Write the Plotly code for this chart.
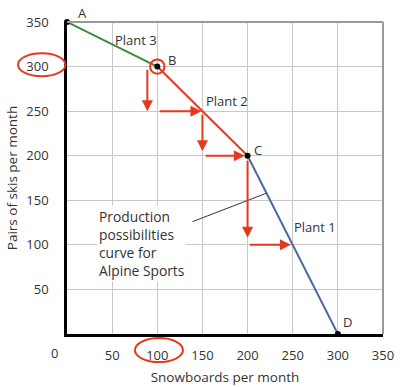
import plotly.graph_objects as go

# Data
point_labels = ["A", "B", "C", "D"]
snowboards = [0, 100, 200, 300]
skis = [350, 300, 200, 0]
segment_colors = ["#3b8a3b", "#e23b22", "#4a6aa3"]
plant_labels = ["Plant 3", "Plant 2", "Plant 1"]
plant_x = [76, 177, 275]
plant_y = [330, 261, 120]
tick_vals = [50, 100, 150, 200, 250, 300, 350]
# hand-drawn red arrows (start x, start y, end x, end y)
arrow_x0 = [89, 101, 150, 152, 200, 201]
arrow_y0 = [298, 250, 248, 200, 196, 100]
arrow_x1 = [89, 149, 150, 197, 200, 248]
arrow_y1 = [250, 250, 205, 200, 108, 100]
callout_line_x = [139, 221]
callout_line_y = [126, 158]

RED = "#e5391d"
FONT = "Open Sans"

fig = go.Figure()

for i in range(3):
    fig.add_trace(go.Scatter(
        x=snowboards[i:i + 2], y=skis[i:i + 2], mode="lines",
        line=dict(color=segment_colors[i], width=2), showlegend=False,
        hoverinfo="skip", cliponaxis=False))

# callout line
fig.add_trace(go.Scatter(x=callout_line_x, y=callout_line_y, mode="lines",
                         line=dict(color="#333333", width=1), showlegend=False))

fig.add_trace(go.Scatter(
    x=snowboards, y=skis, mode="markers",
    marker=dict(color="black", size=6), showlegend=False, cliponaxis=False))

annotations = []
label_shift = [(15, 9), (15, 7), (10, 6), (10, 12)]
for lab, x, y, (dx, dy) in zip(point_labels, snowboards, skis, label_shift):
    annotations.append(dict(x=x, y=y, text=lab, showarrow=False, xshift=dx, yshift=dy,
                            font=dict(family=FONT, size=13, color="#333333")))

for lab, x, y in zip(plant_labels, plant_x, plant_y):
    annotations.append(dict(x=x, y=y, text=lab, showarrow=False,
                            font=dict(family=FONT, size=13, color="#333333")))

for x0, y0, x1, y1 in zip(arrow_x0, arrow_y0, arrow_x1, arrow_y1):
    annotations.append(dict(x=x1, y=y1, ax=x0, ay=y0, xref="x", yref="y",
                            axref="x", ayref="y", showarrow=True, text="",
                            arrowhead=2, arrowsize=1.1, arrowwidth=2,
                            arrowcolor=RED))

annotations.append(dict(
    x=33, y=102, xref="x", yref="y", xanchor="left", yanchor="middle",
    text="Production<br>possibilities<br>curve for<br>Alpine Sports",
    align="left", showarrow=False, bgcolor="white",
    font=dict(family=FONT, size=13.8, color="#333333")))

# corner "0" label on x axis
annotations.append(dict(x=-0.038, y=-0.062, xref="paper", yref="paper",
                        xanchor="center", yanchor="middle",
                        text="0", showarrow=False,
                        font=dict(family=FONT, size=13, color="#333333")))

shapes = [
    # top & right frame in gray
    dict(type="line", xref="paper", yref="paper", x0=0, x1=1, y0=1, y1=1,
         line=dict(color="#9a9a9a", width=2)),
    dict(type="line", xref="paper", yref="paper", x0=1, x1=1, y0=0, y1=1,
         line=dict(color="#9a9a9a", width=2)),
    # red circle around B
    dict(type="circle", xref="x", yref="y", x0=92, x1=108, y0=292, y1=308,
         line=dict(color=RED, width=2)),
    # red ellipse around y tick 300
    dict(type="circle", xref="paper", yref="paper", x0=-0.155, x1=-0.005,
         y0=0.826, y1=0.9, line=dict(color=RED, width=2)),
    # red ellipse around x tick 100
    dict(type="circle", xref="paper", yref="paper", x0=0.215, x1=0.367,
         y0=-0.09, y1=-0.013, line=dict(color=RED, width=2)),
]

fig.update_layout(
    width=400, height=387, margin=dict(l=67, r=17, t=22, b=53),
    plot_bgcolor="white", paper_bgcolor="white",
    font=dict(family=FONT, size=13, color="#333333"),
    annotations=annotations, shapes=shapes,
    xaxis=dict(range=[0, 350], tickvals=tick_vals, showgrid=True,
               gridcolor="#c8c8c8", gridwidth=1, zeroline=False,
               showline=True, linecolor="black", linewidth=2.5,
               ticks="", ticklabelstandoff=8, automargin=False,
               title=dict(text="Snowboards per month", standoff=10,
                          font=dict(family=FONT, size=13.5))),
    yaxis=dict(range=[0, 350], tickvals=tick_vals, showgrid=True,
               gridcolor="#c8c8c8", gridwidth=1, zeroline=False,
               showline=True, linecolor="black", linewidth=2.5,
               ticks="", ticklabelstandoff=13, automargin=False,
               title=dict(text="Pairs of skis per month", standoff=6,
                          font=dict(family=FONT, size=13.5))),
)

fig.write_html("out.html", config={"displayModeBar": False},
               post_script="document.body.style.margin='0';document.body.style.overflow='hidden';")
